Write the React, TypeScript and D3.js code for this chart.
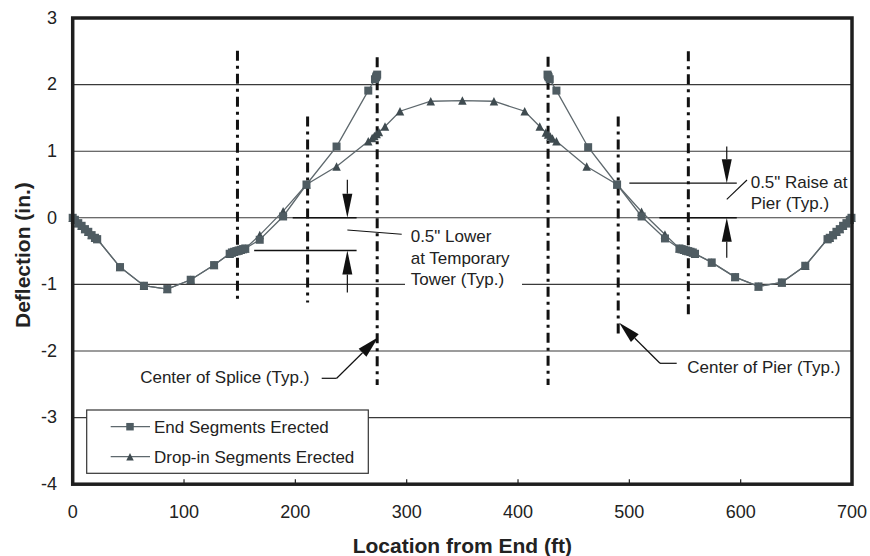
import React from 'react';
import * as d3 from 'd3';

// ---------- data ----------
const xTicks = [0, 100, 200, 300, 400, 500, 600, 700];
const yTicks = [-4, -3, -2, -1, 0, 1, 2, 3];

// End Segments Erected (squares) — null marks the gap (drop-in not yet erected)
const endLoc = [0, 2, 5, 8, 11, 14, 17, 20, 22, 42.5, 64, 85, 106, 127, 141, 143, 145, 147, 149, 151, 153, 155, 168, 189, 210, 237, 265.5, 271.5, 272.5, 273, 273.5,
  null,
  426.5, 427, 427.5, 428.5, 434.5, 463, 489, 511, 532, 545, 547, 549, 551, 553, 555, 557, 559, 574, 595, 616, 637, 658, 678, 680, 683, 686, 689, 692, 695, 698, 699.5];
const endDefl = [0, -0.03, -0.08, -0.12, -0.17, -0.21, -0.26, -0.3, -0.32, -0.74, -1.02, -1.07, -0.93, -0.71, -0.54, -0.52, -0.51, -0.5, -0.49, -0.48, -0.47, -0.46, -0.33, 0.02, 0.5, 1.07, 1.91, 2.08, 2.11, 2.13, 2.15,
  null,
  2.15, 2.13, 2.11, 2.08, 1.91, 1.06, 0.5, 0.02, -0.31, -0.46, -0.47, -0.48, -0.49, -0.5, -0.51, -0.52, -0.54, -0.67, -0.89, -1.03, -0.97, -0.72, -0.32, -0.3, -0.26, -0.21, -0.17, -0.12, -0.08, -0.03, 0];

// Drop-in Segments Erected (triangles)
const dropLoc = [0, 2, 5, 8, 11, 14, 17, 20, 22, 42.5, 64, 85, 106, 127, 141, 143, 145, 147, 149, 151, 153, 155, 168, 189, 210, 237, 265.5, 269, 271, 273, 275, 280.5, 294, 321.6, 350, 378.4, 406, 419.5, 425, 427, 429, 431, 434.5, 461.7, 489, 511, 532, 545, 547, 549, 551, 553, 555, 557, 559, 574, 595, 616, 637, 658, 678, 680, 683, 686, 689, 692, 695, 698, 699.5];
const dropDefl = [0, -0.03, -0.08, -0.12, -0.17, -0.21, -0.26, -0.3, -0.32, -0.74, -1.02, -1.07, -0.93, -0.71, -0.54, -0.52, -0.51, -0.5, -0.49, -0.48, -0.47, -0.46, -0.26, 0.1, 0.5, 0.77, 1.15, 1.2, 1.23, 1.26, 1.29, 1.37, 1.6, 1.75, 1.76, 1.75, 1.6, 1.37, 1.28, 1.25, 1.22, 1.19, 1.15, 0.77, 0.5, 0.09, -0.25, -0.46, -0.47, -0.48, -0.49, -0.5, -0.51, -0.52, -0.54, -0.67, -0.89, -1.03, -0.97, -0.72, -0.32, -0.3, -0.26, -0.21, -0.17, -0.12, -0.08, -0.03, 0];

// vertical centerlines (splice / pier / tower), with their drawn extents
const refLoc = [148, 211, 273.5, 427, 490, 553];
const refTop = [2.51, 1.52, 2.41, 2.42, 1.52, 2.5];
const refBottom = [-1.27, -1.27, -2.51, -2.51, -1.76, -1.5];

const seriesNames = ['End Segments Erected', 'Drop-in Segments Erected'];

// ---------- layout ----------
const W = 870, H = 556;
const FONT = "'Liberation Sans', Arial, Helvetica, sans-serif";
const x = d3.scaleLinear().domain([0, 700]).range([72.7, 852]);
const y = d3.scaleLinear().domain([-4, 3]).range([484.2, 18]);

const LINE_C = '#5e686d';
const SQ_C = '#4f5c62';
const TRI_C = '#3f4b50';

type P = [number, number];
const zip = (a: (number | null)[], b: (number | null)[]) => a.map((v, i) => [v, b[i]] as [number | null, number | null]);

function Arrow({ tip, from, len = 24, w = 10 }: { tip: P; from: P; len?: number; w?: number }) {
  const dx = tip[0] - from[0], dy = tip[1] - from[1];
  const L = Math.hypot(dx, dy);
  const ux = dx / L, uy = dy / L;
  const bx = tip[0] - ux * len, by = tip[1] - uy * len;
  const px = -uy * w / 2, py = ux * w / 2;
  return (
    <g>
      <line x1={from[0]} y1={from[1]} x2={bx} y2={by} stroke="#111" strokeWidth={1.2} />
      <path d={`M${tip[0]},${tip[1]}L${bx + px},${by + py}L${bx - px},${by - py}Z`} fill="#111" />
    </g>
  );
}

function Square({ cx, cy, s = 8, fill = SQ_C }: { cx: number; cy: number; s?: number; fill?: string }) {
  return <rect x={cx - s / 2} y={cy - s / 2} width={s} height={s} fill={fill} />;
}
function Tri({ cx, cy, s = 8.5, fill = TRI_C }: { cx: number; cy: number; s?: number; fill?: string }) {
  return <path d={`M${cx},${cy - s / 2}L${cx + s / 2},${cy + s / 2}L${cx - s / 2},${cy + s / 2}Z`} fill={fill} />;
}

export default function App() {
  const line = d3.line<[number | null, number | null]>()
    .defined(d => d[0] != null && d[1] != null)
    .x(d => x(d[0] as number))
    .y(d => y(d[1] as number));

  const endPts = zip(endLoc, endDefl);
  const dropPts = zip(dropLoc, dropDefl);

  const x0 = x(0), x1 = x(700), yTop = y(3), yBot = y(-4);

  // annotation anchor points (px derived from data coords)
  const lowX = x(246.7);
  const raiseX = x(587.5);

  return (
    <svg width={W} height={H} style={{ position: 'absolute', left: 0, top: 0, background: '#fff' }} fontFamily={FONT}>
      {/* gridlines */}
      {yTicks.slice(1, -1).map(t => (
        <line key={t} x1={x0} x2={x1} y1={y(t)} y2={y(t)} stroke="#3a3a3a" strokeWidth={1.1} />
      ))}
      {/* x ticks (inside) */}
      {xTicks.slice(1, -1).map(t => (
        <line key={t} x1={x(t)} x2={x(t)} y1={yBot} y2={yBot - 5} stroke="#222" strokeWidth={1.2} />
      ))}

      {/* white box behind the tower note */}
      <rect x={405} y={226} width={117} height={66} fill="#fff" />

      {/* vertical centerlines */}
      {refLoc.map((v, i) => (
        <line key={i} x1={x(v)} x2={x(v)} y1={y(refTop[i])} y2={y(refBottom[i])}
          stroke="#111" strokeWidth={3} strokeDasharray="10,5,3,5" />
      ))}

      {/* series lines */}
      <path d={line(dropPts) || ''} fill="none" stroke={LINE_C} strokeWidth={1.3} />
      <path d={line(endPts) || ''} fill="none" stroke={LINE_C} strokeWidth={1.3} />
      {/* markers */}
      {dropPts.map((d, i) => d[0] != null && d[1] != null ? <Tri key={'t' + i} cx={x(d[0])} cy={y(d[1])} /> : null)}
      {endPts.map((d, i) => d[0] != null && d[1] != null ? <Square key={'s' + i} cx={x(d[0])} cy={y(d[1])} /> : null)}

      {/* 0.5" Lower dimension */}
      <line x1={x(197.6)} x2={x(255)} y1={y(0)} y2={y(0)} stroke="#111" strokeWidth={1.6} />
      <line x1={x(163)} x2={x(255)} y1={y(-0.49)} y2={y(-0.49)} stroke="#111" strokeWidth={1.6} />
      <Arrow from={[lowX, y(0.57)]} tip={[lowX, y(0)]} />
      <Arrow from={[lowX, y(-1.12)]} tip={[lowX, y(-0.49)]} />
      <line x1={lowX} y1={230} x2={401.7} y2={234.3} stroke="#111" strokeWidth={1.1} />
      <g fontSize={17} fill="#222">
        <text x={410.7} y={242.3}>{'0.5" Lower'}</text>
        <text x={410.7} y={263.6}>at Temporary</text>
        <text x={410.7} y={285}>Tower (Typ.)</text>
      </g>

      {/* 0.5" Raise dimension */}
      <line x1={x(527)} x2={x(596.5)} y1={y(0)} y2={y(0)} stroke="#111" strokeWidth={1.6} />
      <line x1={x(500)} x2={x(596.5)} y1={y(0.52)} y2={y(0.52)} stroke="#111" strokeWidth={1.2} />
      <Arrow from={[raiseX, y(1.07)]} tip={[raiseX, y(0.52)]} />
      <Arrow from={[raiseX, y(-0.6)]} tip={[raiseX, y(0)]} />
      <line x1={raiseX} y1={199.3} x2={747} y2={180} stroke="#111" strokeWidth={1.1} />
      <g fontSize={17} fill="#222">
        <text x={750.7} y={188.3}>{'0.5" Raise at'}</text>
        <text x={750.7} y={209}>Pier (Typ.)</text>
      </g>

      {/* Center of Splice */}
      <line x1={321.7} x2={336.7} y1={378.3} y2={378.3} stroke="#111" strokeWidth={1.2} />
      <Arrow from={[336.7, 378.3]} tip={[x(273.5) + 1, 337.3]} len={22} w={11} />
      <text x={309.3} y={383.3} fontSize={17} fill="#222" textAnchor="end">Center of Splice (Typ.)</text>

      {/* Center of Pier */}
      <line x1={660} x2={676.7} y1={363.3} y2={363.3} stroke="#111" strokeWidth={1.2} />
      <Arrow from={[660, 363.3]} tip={[x(490) + 1, 322.7]} len={22} w={11} />
      <text x={687.3} y={372.7} fontSize={17} fill="#222">Center of Pier (Typ.)</text>

      {/* legend */}
      <rect x={86.7} y={410} width={281.6} height={63.3} fill="#fff" stroke="#333" strokeWidth={1.2} />
      {seriesNames.map((n, i) => {
        const ly = 426.7 + i * 30;
        return (
          <g key={n}>
            <line x1={110.7} x2={150} y1={ly} y2={ly} stroke={LINE_C} strokeWidth={1.3} />
            {i === 0 ? <Square cx={130} cy={ly} s={7.5} /> : <Tri cx={130} cy={ly} s={7.5} />}
            <text x={154} y={ly} dy="0.35em" fontSize={17} fill="#222">{n}</text>
          </g>
        );
      })}

      {/* frame */}
      <rect x={x0} y={yTop} width={x1 - x0} height={yBot - yTop} fill="none" stroke="#1e1e1e" strokeWidth={3.5} />

      {/* tick labels */}
      {yTicks.map(t => (
        <text key={t} x={57} y={y(t)} dy="0.32em" textAnchor="end" fontSize={18} fill="#222">{t}</text>
      ))}
      {xTicks.map(t => (
        <text key={t} x={x(t)} y={518} textAnchor="middle" fontSize={18} fill="#222">{t}</text>
      ))}

      {/* axis titles */}
      <text x={(x0 + x1) / 2} y={553} textAnchor="middle" fontSize={21} fontWeight="bold" fill="#222">Location from End (ft)</text>
      <text transform={`translate(30,${(yTop + yBot) / 2 + 4}) rotate(-90)`} textAnchor="middle" fontSize={21} fontWeight="bold" fill="#222">Deflection (in.)</text>
    </svg>
  );
}
